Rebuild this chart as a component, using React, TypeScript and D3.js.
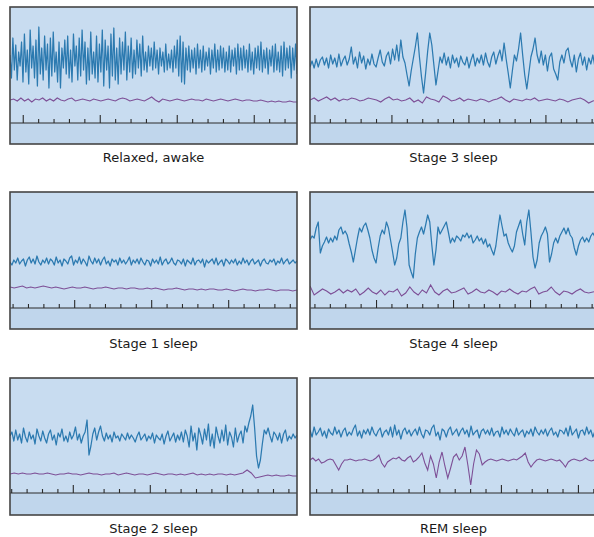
import React from "react";
import * as d3 from "d3";

const stageLabels = ["Relaxed, awake", "Stage 3 sleep", "Stage 1 sleep", "Stage 4 sleep", "Stage 2 sleep", "REM sleep"];

const awakeEEG = [
  5,-18,22,-10,15,-20,8,-6,18,-22,26,-12,10,-24,30,-8,14,-18,20,-26,33,-14,12,-20,24,-10,16,-28,22,-16,28,-12,8,-22,18,-28,12,-8,20,-14,
  24,-18,10,-22,26,-6,14,-20,22,-16,30,-10,18,-24,12,-20,28,-14,8,-18,24,-22,16,-12,30,-26,20,-10,14,-28,26,-16,32,-20,12,-24,22,-14,18,-10,
  28,-20,14,-12,22,-18,10,-14,20,-8,16,-16,24,-10,8,-12,14,-6,12,-10,18,-8,10,-14,12,-6,8,-12,16,-10,6,-8,10,-12,14,-8,20,-16,24,-22,
  18,-24,12,-10,14,-12,10,-8,12,-14,16,-8,10,-12,14,-10,8,-6,12,-14,10,-8,16,-12,10,-10,14,-8,12,-12,8,-10,14,-12,10,-6,12,-14,16,-10,
  12,-10,14,-8,10,-12,16,-10,8,-14,12,-8,14,-10,18,-12,10,-8,12,-14,10,-6,14,-12,16,-10,8,-12,14,-16,18,-10,12,-8,14,-18,12,-10,16,-14,
];
const awakeEOG = [0,1,-1,2,-1,1,-2,1,0,2,-1,1,-1,2,0,-1,1,2,-1,0,1,0,-1,1,0,-1,0,1,0,-1,1,2,1,-1,0,1,0,-1,1,3,0,-2,1,0,-1,0,1,0,-1,0,1,0,0,-1,1,0,-1,0,1,0,-1,0,1,0,-1,0,0,-1,-1,0,-1,-2,-1,-2,-1,-2,-2,-1,-2,-2];

const stage3EEG = [
  0,6,-1,8,0,7,10,2,9,-1,12,3,9,0,13,1,7,11,2,8,
  20,3,10,-1,15,4,11,-2,8,2,13,3,0,9,17,5,1,11,15,3,18,7,22,6,
  27,10,4,-8,-19,-4,8,20,34,10,-10,-26,-6,16,34,22,2,-18,-4,10,
  4,14,2,10,-1,12,4,9,0,11,5,2,10,-1,7,13,1,9,4,12,2,14,5,0,10,15,3,11,17,6,
  24,8,-6,-21,-4,12,6,18,34,12,-8,-22,-6,10,18,29,12,
  4,16,2,12,-4,10,14,-2,-7,-13,5,12,4,16,19,7,0,12,-5,8,14,2,10,-3,9,3,12,0,7,
];
const stage3EOG = [0,2,-1,1,3,0,2,-1,1,0,2,1,-1,0,2,1,0,-2,1,3,0,1,-1,0,2,-2,0,-3,3,1,0,-2,4,2,-1,0,2,-1,1,0,-1,1,0,-2,0,1,3,0,-2,1,0,-1,1,0,2,-1,0,1,0,-1,1,0,-2,0,1,2,0,-3,-1,0];

const stage1EEG = [
  0,-3,2,-1,4,-2,1,3,-4,2,5,-1,3,-2,6,0,-3,2,-1,4,-2,3,1,-3,5,-1,2,-4,3,1,
  -2,4,6,-3,2,-1,5,-2,3,0,-4,6,1,-2,4,-1,3,-3,2,5,-2,1,-4,3,0,2,-3,4,-1,2,
  -2,1,5,-3,2,-1,3,-2,4,0,-3,2,1,-4,3,-1,2,-2,5,-3,1,3,-2,0,4,-1,-3,2,1,-2,
  3,-4,2,0,-2,4,-3,1,2,-1,3,-5,2,-1,1,3,-2,4,-3,0,2,-4,3,1,-2,2,-1,3,-3,1,
  -2,4,-1,2,-3,1,3,-2,0,2,-4,1,3,-1,-2,2,0,3,-3,1,-1,4,-2,1,3,-2,0,2,-1,1,
];
const stage1EOG = [1,0,1,2,0,1,0,1,2,1,0,1,0,-1,0,1,0,0,1,0,-1,0,0,1,0,-1,0,0,-1,0,0,-1,-1,0,-1,0,-1,-2,-1,-1,0,-1,-2,-1,-1,-2,-1,-2,-1,-1,-2,-2,-1,-2,-3,-2,-1,-2,-2,-3,-2,-2,-1,-2,-3,-2,-2,-2,-3,-2];

const stage4EEG = [
  0,4,2,12,18,-13,-6,-2,3,-3,2,-2,4,0,10,13,6,9,5,-4,
  -12,-22,-10,2,12,8,14,17,10,2,-10,-18,-23,-8,4,10,6,18,12,0,
  -12,-25,-18,-4,2,18,30,12,-25,-32,-38,-14,2,8,13,6,15,25,18,-5,
  -25,-10,13,6,10,14,18,8,-3,2,-2,4,2,-1,5,3,7,2,5,-3,
  0,4,-1,2,-4,1,-7,-4,-10,-15,-6,10,25,14,4,6,-3,-8,-12,-6,
  8,14,20,6,-5,18,30,8,-17,-28,-20,-3,4,8,13,6,-22,-14,-3,2,
  -3,4,8,12,6,12,5,2,-8,-15,-6,0,3,-2,2,-2,4,7,3,6,
];
const stage4EOG = [6,-3,0,3,1,-2,0,3,-1,2,0,3,-3,0,4,0,-2,2,-3,1,0,3,-4,-1,5,0,-3,2,-1,7,0,-3,1,3,-1,0,2,4,-2,0,3,0,-1,2,0,-3,1,0,3,0,-2,1,0,3,5,-2,0,1,5,0,-3,1,0,-2,1,3,0,-1,0,1];

const stage2EEG = [
  2,6,-3,8,-2,4,-5,10,1,-4,6,-1,3,-6,9,2,-3,7,0,-5,4,8,-2,3,-7,5,1,9,-3,2,-4,6,-1,3,11,-2,4,-5,2,6,
  18,-17,-8,4,10,-2,6,12,2,-3,
  5,-1,3,-4,6,0,2,-3,4,1,-2,5,-1,3,0,-4,2,6,-2,1,4,-3,2,-1,5,-5,3,0,-2,4,-6,2,7,-3,1,5,-4,3,-2,6,
  -4,8,2,-9,12,-3,5,-12,10,3,-6,9,-2,14,-8,4,-10,11,2,-5,8,-3,13,-7,6,1,-9,10,-4,3,7,-5,12,6,15,
  22,33,10,-18,-30,-22,-6,8,4,10,
  2,-4,6,3,-2,5,-5,4,8,-3,2,-1,4,0,3,
];
const stage2EOG = [0,1,0,1,0,0,1,0,0,1,0,-1,0,0,1,0,0,-1,0,1,0,0,-1,0,0,1,-1,0,1,0,-1,0,0,-1,0,1,0,-1,0,0,-1,0,-1,0,1,-1,0,-1,0,-1,0,0,-1,0,-1,0,1,4,1,-4,-3,-2,-1,-2,-1,-2,-2,-1,-2,-2];

const remEEG = [
  3,-4,6,-2,1,5,-3,2,-5,4,0,-2,6,-1,3,-4,2,5,-3,1,-2,4,8,-3,2,-5,3,-1,4,-2,6,0,-3,2,5,-4,1,3,-2,6,
  -4,8,-2,3,-6,2,5,-1,3,-3,1,4,-2,6,-1,-5,3,2,-2,5,8,-3,1,-7,4,2,-4,3,6,-2,
  1,4,-3,2,5,-1,3,-4,7,-2,1,3,-5,2,4,-1,3,-2,5,-3,1,2,-4,6,-1,3,-2,4,0,-3,
  5,-2,1,3,-4,2,-1,4,-3,6,1,-2,3,-1,4,-3,2,5,-2,1,-4,3,2,-1,5,-3,7,-2,1,4,
  -5,2,3,-2,6,-1,3,-4,2,1,
];
const remEOG = [
  0,2,-1,1,-3,-2,0,1,
  0,-5,-10,-4,0,
  0,1,0,-1,0,0,1,0,-1,0,
  2,5,-3,-7,-2,0,2,
  1,3,0,-1,2,4,-2,0,3,
  7,-3,-10,4,
  -4,-18,-2,8,-6,-18,-8,3,6,0,
  4,13,-5,-25,-4,10,6,-5,-2,0,
  1,0,-1,0,1,0,-1,0,1,0,2,
  4,7,-2,-7,-3,0,1,0,-1,
  0,1,0,-1,0,-3,-7,-2,0,1,0,-1,0,2,0,-1,0,1,
];

// tick phase (in tick units) and index of first major tick
const tickPhase = [0.86, 0.32, 0.2, 0.32, 0.11, 0.43];
const tickMajor = [5, 5, 4, 4, 4, 2];

const eegSeries = [awakeEEG, stage3EEG, stage1EEG, stage4EEG, stage2EEG, remEEG];
const eogSeries = [awakeEOG, stage3EOG, stage1EOG, stage4EOG, stage2EOG, remEOG];

const W = 594, H = 537;
const panelW = 287, panelH = 137;
const colX = [10, 310];
const rowY = [7, 192, 378];
const labelY = [162, 348, 533];
const eegCenter = [53, 60, 70, 48, 60, 55];
const eogCenter = [93, 93, 96, 100, 96, 82];
const baseY = [116, 116, 116, 116, 115, 115];
const tickUnits = panelW / 15.4;

function Panel({ i }: { i: number }) {
  const col = i % 2, row = Math.floor(i / 2);
  const x0 = colX[col], y0 = rowY[row];
  const eeg = eegSeries[i], eog = eogSeries[i];
  const xE = d3.scaleLinear().domain([0, eeg.length - 1]).range([x0, x0 + panelW]);
  const xO = d3.scaleLinear().domain([0, eog.length - 1]).range([x0, x0 + panelW]);
  const yE = d3.scaleLinear().domain([-50, 50]).range([y0 + eegCenter[i] + 50, y0 + eegCenter[i] - 50]);
  const yO = d3.scaleLinear().domain([-50, 50]).range([y0 + eogCenter[i] + 50, y0 + eogCenter[i] - 50]);
  const lineE = d3.line<number>().x((_, k) => xE(k)).y((d) => yE(d));
  const lineO = d3.line<number>().x((_, k) => xO(k)).y((d) => yO(d));
  const xT = d3.scaleLinear().domain([0, tickUnits]).range([x0, x0 + panelW]);
  const ticks: { t: number; major: boolean }[] = [];
  for (let k = 0; tickPhase[i] + k < tickUnits; k++) {
    ticks.push({ t: tickPhase[i] + k, major: (k - tickMajor[i]) % 5 === 0 });
  }
  const by = y0 + baseY[i];
  const clipId = `clip${i}`;
  return (
    <g>
      <defs>
        <clipPath id={clipId}>
          <rect x={x0} y={y0} width={panelW} height={panelH} />
        </clipPath>
      </defs>
      <rect x={x0} y={y0} width={panelW} height={panelH} fill="#c8dcf0" />
      <rect x={x0} y={by} width={panelW} height={panelH - baseY[i]} fill="#c0d6ec" />
      <g clipPath={`url(#${clipId})`}>
        <path d={lineE(eeg) || ""} fill="none" stroke="#2c7ab0" strokeWidth={1.25} strokeLinejoin="round" />
        <path d={lineO(eog) || ""} fill="none" stroke="#7d4f96" strokeWidth={1.1} />
        <line x1={x0} x2={x0 + panelW} y1={by} y2={by} stroke="#2a2a2a" strokeWidth={1.2} />
        {ticks.map((tk, k) => (
          <line key={k} x1={xT(tk.t)} x2={xT(tk.t)} y1={by} y2={by - (tk.major ? 8 : 4)} stroke="#2a2a2a" strokeWidth={1.1} />
        ))}
      </g>
      <rect x={x0} y={y0} width={panelW} height={panelH} fill="none" stroke="#454545" strokeWidth={1.6} />
      <text x={x0 + panelW / 2} y={labelY[row]} textAnchor="middle" fontFamily="DejaVu Sans, Verdana, sans-serif" fontSize={13} fill="#1a1a1a">
        {stageLabels[i]}
      </text>
    </g>
  );
}

export default function App() {
  return (
    <svg width={W} height={H} style={{ position: "absolute", left: 0, top: 0, background: "#fff" }}>
      <rect x={0} y={0} width={W} height={H} fill="#fff" />
      {stageLabels.map((_, i) => (
        <Panel key={i} i={i} />
      ))}
    </svg>
  );
}
